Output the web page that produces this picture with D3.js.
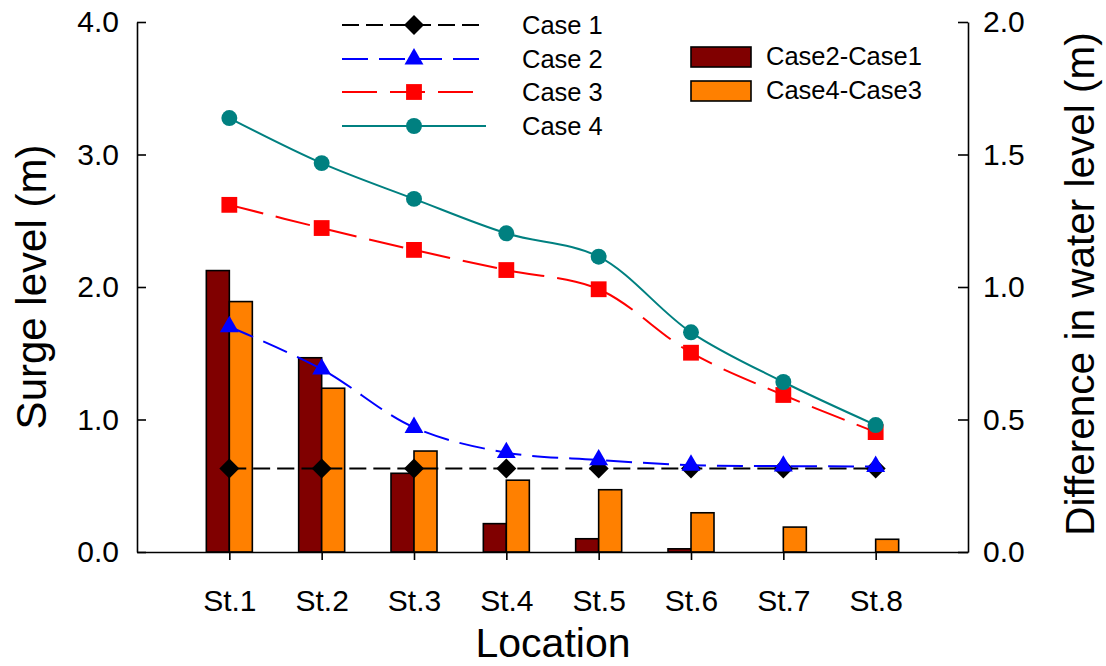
<!DOCTYPE html>
<html>
<head>
<meta charset="utf-8">
<script src="https://cdn.jsdelivr.net/npm/d3@7"></script>
<style>
  html, body { margin: 0; padding: 0; background: #fff; }
  svg { display: block; font-family: "Liberation Sans", Arial, sans-serif; }
</style>
</head>
<body>
<svg id="chart" width="1106" height="666"></svg>
<script>
// ---- data ----
const stations = ["St.1", "St.2", "St.3", "St.4", "St.5", "St.6", "St.7", "St.8"];
const case1 = [0.63, 0.63, 0.63, 0.63, 0.63, 0.63, 0.63, 0.63];
const case2 = [1.70, 1.38, 0.94, 0.75, 0.695, 0.655, 0.648, 0.645];
const case3 = [2.62, 2.445, 2.28, 2.128, 1.983, 1.504, 1.185, 0.905];
const case4 = [3.275, 2.935, 2.665, 2.405, 2.229, 1.658, 1.283, 0.958];
const diff21 = [1.062, 0.733, 0.297, 0.107, 0.050, 0.012, 0, 0];
const diff43 = [0.945, 0.618, 0.381, 0.271, 0.235, 0.148, 0.094, 0.048];
const leftTicks = [0, 1, 2, 3, 4];
const rightTicks = [0, 0.5, 1.0, 1.5, 2.0];
const lineNames = ["Case 1", "Case 2", "Case 3", "Case 4"];
const barNames = ["Case2-Case1", "Case4-Case3"];

const svg = d3.select("#chart");
const L = 137, R = 968, T = 22, B = 552;

const x = d3.scalePoint().domain(stations).range([L, R]).padding(1);
const yL = d3.scaleLinear().domain([0, 4]).range([B, T]);
const yR = d3.scaleLinear().domain([0, 2]).range([B, T]);
const sub = d3.scaleBand().domain(["d21", "d43"]).range([-23, 23]);

// ---- bars ----
const barSeries = [
  { key: "d21", vals: diff21, color: "#800000" },
  { key: "d43", vals: diff43, color: "#FF8000" }
];
const gBars = svg.append("g");
barSeries.forEach(s => {
  gBars.selectAll(null)
    .data(stations.map((st, i) => ({ st, v: s.vals[i] })).filter(d => d.v > 0))
    .enter().append("rect")
    .attr("x", d => x(d.st) + sub(s.key))
    .attr("y", d => yR(d.v))
    .attr("width", sub.bandwidth())
    .attr("height", d => yR(0) - yR(d.v))
    .attr("fill", s.color)
    .attr("stroke", "#000")
    .attr("stroke-width", 1.6);
});

// ---- axes ----
const fontTick = "30px";
const axL = svg.append("g").attr("transform", `translate(${L},0)`)
  .call(d3.axisLeft(yL).tickValues(leftTicks).tickFormat(d3.format(".1f"))
    .tickSize(-9).tickSizeOuter(0).tickPadding(18));
const axR = svg.append("g").attr("transform", `translate(${R},0)`)
  .call(d3.axisRight(yR).tickValues(rightTicks).tickFormat(d3.format(".1f"))
    .tickSize(-10).tickSizeOuter(0).tickPadding(15));
const axB = svg.append("g").attr("transform", `translate(0,${B})`)
  .call(d3.axisBottom(x).tickSize(8).tickSizeOuter(0).tickPadding(30));
[axL, axR, axB].forEach(a => {
  a.selectAll("text").attr("font-size", fontTick).attr("fill", "#000")
    .attr("font-family", "Liberation Sans, Arial, sans-serif");
  a.selectAll("line").attr("stroke", "#000").attr("stroke-width", 1.6);
  a.select(".domain").attr("stroke", "#000").attr("stroke-width", 1.6);
});

// ---- lines ----
const lineSeries = [
  { name: lineNames[0], vals: case1, color: "#000000", dash: "17,7", marker: d3.symbolSquare, msize: 200, rot: 45 },
  { name: lineNames[1], vals: case2, color: "#0000FF", dash: "26,11", marker: d3.symbolTriangle, msize: 155, rot: 0 },
  { name: lineNames[2], vals: case3, color: "#FF0000", dash: "35,13", marker: d3.symbolSquare, msize: 250, rot: 0 },
  { name: lineNames[3], vals: case4, color: "#008080", dash: null, marker: d3.symbolCircle, msize: 200, rot: 0 }
];
const line = d3.line().x(d => x(d.st)).y(d => yL(d.v)).curve(d3.curveCatmullRom.alpha(0.5));
const gLines = svg.append("g");
lineSeries.forEach(s => {
  const data = stations.map((st, i) => ({ st, v: s.vals[i] }));
  gLines.append("path").datum(data)
    .attr("d", line).attr("fill", "none")
    .attr("stroke", s.color).attr("stroke-width", 2)
    .attr("stroke-dasharray", s.dash);
  gLines.selectAll(null).data(data).enter().append("path")
    .attr("transform", d => `translate(${x(d.st)},${yL(d.v)}) rotate(${s.rot})`)
    .attr("d", d3.symbol().type(s.marker).size(s.msize))
    .attr("fill", s.color);
});

// ---- legend (lines) ----
const legY = [25, 59, 92, 126];
const gLeg = svg.append("g");
lineSeries.forEach((s, i) => {
  const yy = legY[i];
  gLeg.append("line").attr("x1", 342).attr("x2", 486).attr("y1", yy).attr("y2", yy)
    .attr("stroke", s.color).attr("stroke-width", 2).attr("stroke-dasharray", s.dash);
  gLeg.append("path").attr("transform", `translate(414,${yy}) rotate(${s.rot})`)
    .attr("d", d3.symbol().type(s.marker).size(s.msize)).attr("fill", s.color);
  gLeg.append("text").attr("x", 522).attr("y", yy + 9).attr("font-size", "25.5px")
    .attr("fill", "#000").text(s.name);
});

// ---- legend (bars) ----
const barLegY = [47, 81];
barSeries.forEach((s, i) => {
  gLeg.append("rect").attr("x", 691).attr("y", barLegY[i]).attr("width", 60).attr("height", 20)
    .attr("fill", s.color).attr("stroke", "#000").attr("stroke-width", 1.6);
  gLeg.append("text").attr("x", 766).attr("y", barLegY[i] + 18).attr("font-size", "25.5px")
    .attr("fill", "#000").text(barNames[i]);
});

// ---- titles ----
svg.append("text").attr("transform", "translate(46,287) rotate(-90)")
  .attr("text-anchor", "middle").attr("font-size", "42px").attr("fill", "#000").text("Surge level (m)");
svg.append("text").attr("transform", "translate(1094,284) rotate(-90)")
  .attr("text-anchor", "middle").attr("font-size", "40.5px").attr("fill", "#000").text("Difference in water level (m)");
svg.append("text").attr("x", 553).attr("y", 657)
  .attr("text-anchor", "middle").attr("font-size", "41px").attr("fill", "#000").text("Location");
</script>
</body>
</html>
